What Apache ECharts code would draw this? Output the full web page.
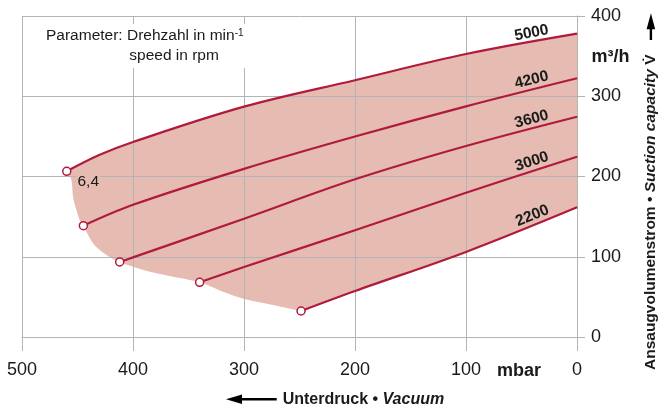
<!DOCTYPE html>
<html>
<head>
<meta charset="utf-8">
<script src="https://cdn.jsdelivr.net/npm/echarts@6/dist/echarts.min.js"></script>
<style>
html,body{margin:0;padding:0;background:#fff;}
#chart{width:672px;height:408px;}
</style>
</head>
<body>
<div id="chart"></div>
<script>
// ---- data (vacuum in mbar, suction capacity in m³/h) ----
const speeds = ['5000', '4200', '3600', '3000', '2200'];
const x5000 = [459.7, 430, 400, 300, 200, 100, 0];
const y5000 = [206.5, 227, 243, 287, 320, 352.6, 378];
const x4200 = [444.7, 400, 300, 200, 100, 0];
const y4200 = [138.7, 164.7, 209.5, 249.8, 287.4, 322.4];
const x3600 = [412, 400, 300, 200, 100, 0];
const y3600 = [93.5, 99.2, 147.4, 196.5, 238, 274.5];
const x3000 = [340, 300, 200, 100, 0];
const y3000 = [68.2, 87.2, 133, 179.7, 224.7];
const x2200 = [248.6, 200, 100, 0];
const y2200 = [32.4, 57.3, 106, 161.6];
// lower-left boundary of the operating range (from 2200 start to 5000 start)
const envX = [248.6, 274, 300, 320, 340, 367, 385, 400, 412, 424, 436, 444.7, 448, 451, 454, 455.5, 459.7];
const envY = [32.4, 39.8, 47.6, 57, 68.2, 76, 81.4, 87.6, 93.5, 102.2, 116.8, 138.7, 145.8, 158.3, 174.8, 195.6, 206.5];
const startLabel = '6,4';
const xTicks = [0, 100, 200, 300, 400, 500];
const yTicks = [0, 100, 200, 300, 400];

// ---- styles ----
const FONT = 'Liberation Sans, Arial, Helvetica, sans-serif';
const LINE = '#b01b3c';
const FILL = '#e6bbb2';
const GRID = '#b4b4b4';
const TXT = '#1a1a1a';
const labelRotate = [11, 14, 15, 18, 22.5];

const xs = [x5000, x4200, x3600, x3000, x2200];
const ys = [y5000, y4200, y3600, y3000, y2200];

function catmull(p, n) {
  n = n || 16;
  const out = [];
  for (let i = 0; i < p.length - 1; i++) {
    const p0 = p[Math.max(i - 1, 0)], p1 = p[i], p2 = p[i + 1], p3 = p[Math.min(i + 2, p.length - 1)];
    for (let k = 0; k < n; k++) {
      const t = k / n, t2 = t * t, t3 = t2 * t;
      out.push([0, 1].map(d => 0.5 * (2 * p1[d] + (-p0[d] + p2[d]) * t +
        (2 * p0[d] - 5 * p1[d] + 4 * p2[d] - p3[d]) * t2 +
        (-p0[d] + 3 * p1[d] - 3 * p2[d] + p3[d]) * t3)));
    }
  }
  out.push(p[p.length - 1]);
  return out;
}

function makeData(i) {
  const X = xs[i], Y = ys[i];
  return X.map((x, j) => {
    const item = { value: [x, Y[j]] };
    if (j === 0) {
      item.symbol = 'circle';
      item.symbolSize = 8;
      item.itemStyle = { color: '#fff', borderColor: LINE, borderWidth: 1.5 };
      if (i === 0) {
        item.label = {
          show: true, formatter: startLabel, position: 'right', distance: 5, offset: [0, 10],
          fontSize: 15.5, fontFamily: FONT, color: TXT, backgroundColor: FILL, padding: [0, 1]
        };
      }
    } else if (j === X.length - 1) {
      item.symbol = 'circle';
      item.symbolSize = 1;
      item.itemStyle = { color: LINE, borderWidth: 0 };
      item.label = {
        show: true, formatter: speeds[i], position: 'inside', rotate: labelRotate[i],
        offset: [-44.5, -9.3], align: 'center', verticalAlign: 'middle',
        fontSize: 15.5, fontWeight: 'bold', fontFamily: FONT, color: TXT, textBorderWidth: 0
      };
    } else {
      item.symbol = 'none';
    }
    return item;
  });
}

const series = [{
  type: 'custom',
  z: 1,
  silent: true,
  data: [[0, 0]],
  renderItem: function (params, api) {
    const toPx = (X, Y) => X.map((x, i) => api.coord([x, Y[i]]));
    const top = catmull(toPx(x5000, y5000));
    const bot = catmull(toPx(x2200, y2200)).reverse();
    const env = catmull(toPx(envX, envY), 8);
    return { type: 'polygon', shape: { points: top.concat(bot, env) }, style: { fill: FILL } };
  }
}];
speeds.forEach((s, i) => {
  series.push({
    type: 'line', name: s, z: 3, smooth: 0.35, showSymbol: true,
    lineStyle: { color: LINE, width: 2.2 },
    itemStyle: { color: '#fff', borderColor: LINE },
    data: makeData(i)
  });
});

const chart = echarts.init(document.getElementById('chart'));
chart.setOption({
  animation: false,
  backgroundColor: '#fff',
  grid: { left: 22, right: 95, top: 16, bottom: 71 },
  xAxis: {
    type: 'value', inverse: true, min: xTicks[0], max: xTicks[xTicks.length - 1], interval: 100, z: 2,
    axisLine: { show: true, lineStyle: { color: GRID, width: 1 } },
    axisTick: { show: true, length: 14, lineStyle: { color: GRID, width: 1 } },
    axisLabel: { fontSize: 18, color: TXT, margin: 24, fontFamily: FONT },
    splitLine: { show: true, lineStyle: { color: GRID, width: 1 } }
  },
  yAxis: {
    type: 'value', position: 'right', min: yTicks[0], max: yTicks[yTicks.length - 1], interval: 100, z: 2,
    axisLine: { show: true, lineStyle: { color: GRID, width: 1 } },
    axisTick: { show: true, length: 8, lineStyle: { color: GRID, width: 1 } },
    axisLabel: { fontSize: 18, color: TXT, margin: 14, fontFamily: FONT },
    splitLine: { show: true, lineStyle: { color: GRID, width: 1 } }
  },
  graphic: [
    { type: 'rect', z: 5, shape: { x: 40, y: 24, width: 212, height: 44 }, style: { fill: '#fff' } },
    { type: 'text', z: 6, x: 46, y: 36, style: {
        text: '{n|Parameter: Drehzahl in min}{s|-1}',
        verticalAlign: 'middle',
        rich: {
          n: { fontSize: 15.5, fontFamily: FONT, fill: TXT, color: TXT },
          s: { fontSize: 10, fontFamily: FONT, fill: TXT, color: TXT, verticalAlign: 'top' }
        }
    } },
    { type: 'text', z: 6, x: 129.3, y: 55.5, style: { text: 'speed in rpm', fontSize: 15.5, fontFamily: FONT, fill: TXT, verticalAlign: 'middle' } },
    { type: 'text', z: 6, x: 519, y: 371, style: { text: 'mbar', fontSize: 18, fontWeight: 'bold', fontFamily: FONT, fill: TXT, align: 'center', verticalAlign: 'middle' } },
    { type: 'text', z: 6, x: 591.5, y: 57, style: { text: 'm³/h', fontSize: 18, fontWeight: 'bold', fontFamily: FONT, fill: TXT, align: 'left', verticalAlign: 'middle' } },
    { type: 'text', z: 6, x: 651, y: 370, rotation: Math.PI / 2, style: {
        text: '{b|Ansaugvolumenstrom • }{i|Suction capacity }{b|V\u0307}',
        align: 'left', verticalAlign: 'middle',
        rich: {
          b: { fontSize: 15.5, fontWeight: 'bold', fontFamily: FONT, fill: TXT, color: TXT },
          i: { fontSize: 15.5, fontWeight: 'bold', fontStyle: 'italic', fontFamily: FONT, fill: TXT, color: TXT }
        }
    } },
    { type: 'polygon', z: 6, shape: { points: [[646.6, 29.3], [650.9, 13.3], [655.2, 29.3]] }, style: { fill: '#000' } },
    { type: 'line', z: 6, shape: { x1: 650.9, y1: 28, x2: 650.9, y2: 40 }, style: { stroke: '#000', lineWidth: 2.4 } },
    { type: 'polygon', z: 6, shape: { points: [[226, 399.3], [242, 394.6], [242, 404]] }, style: { fill: '#000' } },
    { type: 'line', z: 6, shape: { x1: 241, y1: 399.3, x2: 276.7, y2: 399.3 }, style: { stroke: '#000', lineWidth: 2.4 } },
    { type: 'text', z: 6, x: 282.7, y: 399.3, style: {
        text: '{b|Unterdruck • }{i|Vacuum}',
        verticalAlign: 'middle',
        rich: {
          b: { fontSize: 16, fontWeight: 'bold', fontFamily: FONT, fill: TXT, color: TXT },
          i: { fontSize: 16, fontWeight: 'bold', fontStyle: 'italic', fontFamily: FONT, fill: TXT, color: TXT }
        }
    } }
  ],
  series: series
});
</script>
</body>
</html>
